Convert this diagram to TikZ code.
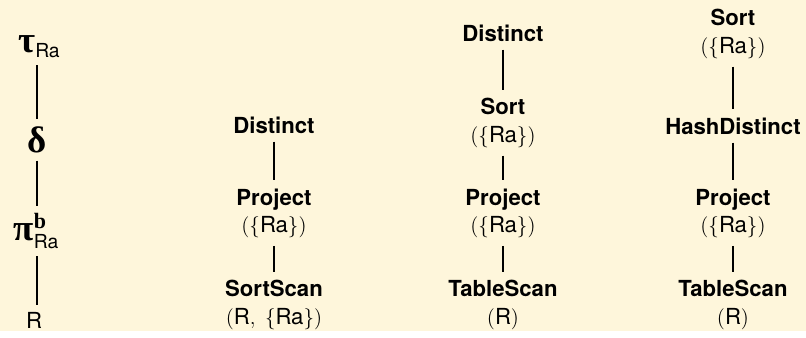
\documentclass[tikz,border=0pt]{standalone}
\usepackage{amsmath}
\usepackage{fontspec}
\setmainfont{TeX Gyre Heros}
\newfontfamily\grk{Liberation Serif}[BoldFont=* Bold]
\definecolor{cream}{RGB}{254,246,219}
\tikzset{
  op/.style={font=\fontsize{12.6}{15.5}\selectfont, align=center, inner xsep=2pt, inner ysep=4.5pt},
  alg/.style={font=\fontsize{12.6}{15}\selectfont, inner xsep=1pt, inner ysep=4pt},
  edge/.style={line width=0.75pt, draw=black}
}
\newcommand{\Gk}[1]{{\grk\bfseries\fontsize{21}{23}\selectfont #1}}
\newcommand{\Sb}[1]{\raisebox{-2.8pt}{\fontsize{11}{12}\selectfont #1}}
\newcommand{\Sp}[1]{\raisebox{7pt}{\grk\bfseries\fontsize{12.5}{14}\selectfont #1}}
\begin{document}
\begin{tikzpicture}[x=0.02cm, y=-0.02cm]
\fill[cream] (0,0) rectangle (806,331);
% tree 1
\node[alg] (t1) at (39,47) {\Gk{τ}\Sb{Ra}};
\node[alg] (d1) at (37,140) {\Gk{δ}};
\node[alg] (p1) at (36,231) {\Gk{π}\rlap{\Sp{b}}\raisebox{-4.5pt}{\fontsize{11}{12}\selectfont Ra}};
\node[alg] (r1) at (34,320) {R};
\draw[edge] (t1.south -| d1) -- (d1);
\draw[edge] (d1) -- (p1.north -| d1);
\draw[edge] (p1.south -| d1) -- (r1.north -| d1);
% tree 2
\node[op] (d2) at (274,125) {\textbf{Distinct}};
\node[op] (p2) at (274,213) {\textbf{Project}\\$(\{\text{Ra}\})$};
\node[op] (s2) at (274,305) {\textbf{SortScan}\\$(\text{R},\;\{\text{Ra}\})$};
\draw[edge] (d2) -- (p2);
\draw[edge] (p2) -- (s2);
% tree 3
\node[op] (d3) at (503,33) {\textbf{Distinct}};
\node[op] (s3) at (503,123) {\textbf{Sort}\\$(\{\text{Ra}\})$};
\node[op] (p3) at (503,213) {\textbf{Project}\\$(\{\text{Ra}\})$};
\node[op] (t3) at (503,305) {\textbf{TableScan}\\$(\text{R})$};
\draw[edge] (d3) -- (s3);
\draw[edge] (s3) -- (p3);
\draw[edge] (p3) -- (t3);
% tree 4
\node[op] (s4) at (733,34) {\textbf{Sort}\\$(\{\text{Ra}\})$};
\node[op] (h4) at (733,126) {\textbf{HashDistinct}};
\node[op] (p4) at (733,213) {\textbf{Project}\\$(\{\text{Ra}\})$};
\node[op] (t4) at (733,305) {\textbf{TableScan}\\$(\text{R})$};
\draw[edge] (s4) -- (h4);
\draw[edge] (h4) -- (p4);
\draw[edge] (p4) -- (t4);
\end{tikzpicture}
\end{document}
